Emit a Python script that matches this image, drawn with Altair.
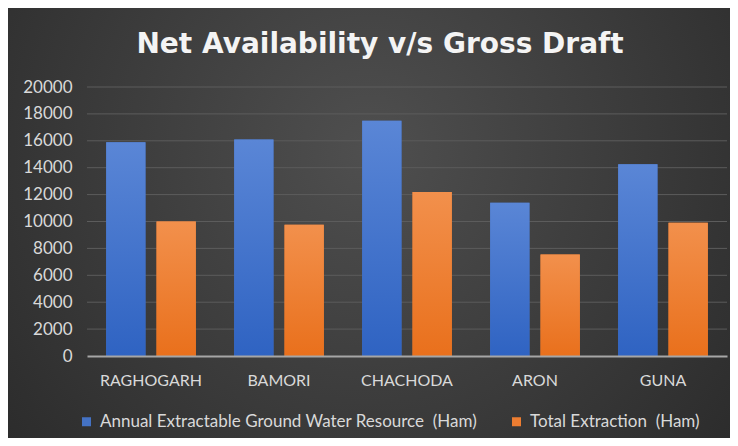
import altair as alt
import pandas as pd

categories = ["RAGHOGARH", "BAMORI", "CHACHODA", "ARON", "GUNA"]
resource = [15900, 16100, 17500, 11400, 14250]
extraction = [10000, 9750, 12200, 7550, 9900]
series_names = ["Annual Extractable Ground Water Resource\u00a0 (Ham)", "Total Extraction\u00a0 (Ham)"]
series_colors = ["#4472c4", "#ed7d31"]
y_ticks = list(range(0, 20001, 2000))
title_text = ["Net Availability v/s Gross Draft"]

rows = []
for c, r, e in zip(categories, resource, extraction):
    rows.append({"Block": c, "Series": series_names[0], "Value": r})
    rows.append({"Block": c, "Series": series_names[1], "Value": e})
df = pd.DataFrame(rows)
grid_df = pd.DataFrame({"Value": y_ticks})

W, H = 640, 269
PL, PT, PR, PB = 79, 79, 3, 82
FONT = "Lato"

y_scale = alt.Scale(domain=[0, 20000], nice=False)
x_enc = alt.X("Block:N", sort=categories, title=None,
              scale=alt.Scale(paddingInner=0.3, paddingOuter=0.15),
              axis=alt.Axis(labelAngle=0, labelColor="#d9d9d9", labelFontSize=16,
                            labelPadding=16, ticks=False, domainColor="#a6a6a6",
                            domainWidth=2, labelFont=FONT, zindex=1))
xo_enc = alt.XOffset("Series:N", sort=series_names,
                     scale=alt.Scale(domain=series_names, paddingInner=0.22, paddingOuter=0))
y_enc = alt.Y("Value:Q", title=None, scale=y_scale,
              axis=alt.Axis(values=y_ticks, format="d", labelColor="#d9d9d9",
                            labelFontSize=17, labelPadding=15, ticks=False,
                            labelOverlap=False, domain=False, grid=False,
                            labelFont=FONT, zindex=1))

bg = alt.Chart(pd.DataFrame({"a": [0]})).mark_rect(
    fill={
        "gradient": "radial",
        "x1": 0.5, "y1": 0.4, "x2": 0.5, "y2": 0.4,
        "r1": 0, "r2": 0.75,
        "stops": [
            {"offset": 0, "color": "#4f4f4f"},
            {"offset": 1, "color": "#262626"},
        ],
    }
).encode(
    x=alt.value(-PL), x2=alt.value(W + PR),
    y=alt.value(-PT), y2=alt.value(H + PB),
)

grid = alt.Chart(grid_df).transform_filter(alt.datum.Value > 0).mark_rule(
    color="#5c5c5c", strokeWidth=1
).encode(
    y=y_enc,
    x=alt.value(0), x2=alt.value(W),
)

bars = alt.Chart(df).mark_bar().encode(
    x=x_enc, xOffset=xo_enc, y=y_enc,
    color=alt.Color("Series:N", sort=series_names, title=None,
                    scale=alt.Scale(domain=series_names, range=series_colors),
                    legend=alt.Legend(orient="none", direction="horizontal",
                                      legendX=-9, legendY=326,
                                      symbolType="square", symbolSize=81,
                                      symbolStrokeWidth=0, symbolOffset=0,
                                      labelOffset=5,
                                      labelColor="#d9d9d9", labelFontSize=17,
                                      labelFont=FONT, columnPadding=30,
                                      labelLimit=500)),
)

def grad_bar(name, top, bottom):
    return alt.Chart(df).transform_filter(
        alt.datum.Series == name
    ).mark_bar(fill={
        "gradient": "linear", "x1": 0, "y1": 0, "x2": 0, "y2": 1,
        "stops": [{"offset": 0, "color": top}, {"offset": 1, "color": bottom}],
    }).encode(x=x_enc, xOffset=xo_enc, y=y_enc)

blue_bars = grad_bar(series_names[0], "#5a86d6", "#2f63c2")
orange_bars = grad_bar(series_names[1], "#f2904c", "#e9701c")

title = alt.Chart(pd.DataFrame({"t": title_text})).mark_text(
    font="DejaVu Sans", fontSize=28, fontWeight="bold", color="#f4f4f4",
    align="center", baseline="alphabetic",
).encode(text="t:N", x=alt.value(293), y=alt.value(-34))

chart = alt.layer(bg, grid, bars, blue_bars, orange_bars, title).properties(
    width=W, height=H,
    autosize=alt.AutoSizeParams(type="none"),
    padding={"left": PL, "top": PT, "right": PR, "bottom": PB},
).configure(background="#2b2b2b").configure_view(stroke=None)

chart.save("out.html", embed_options={"renderer": "svg", "actions": False})
